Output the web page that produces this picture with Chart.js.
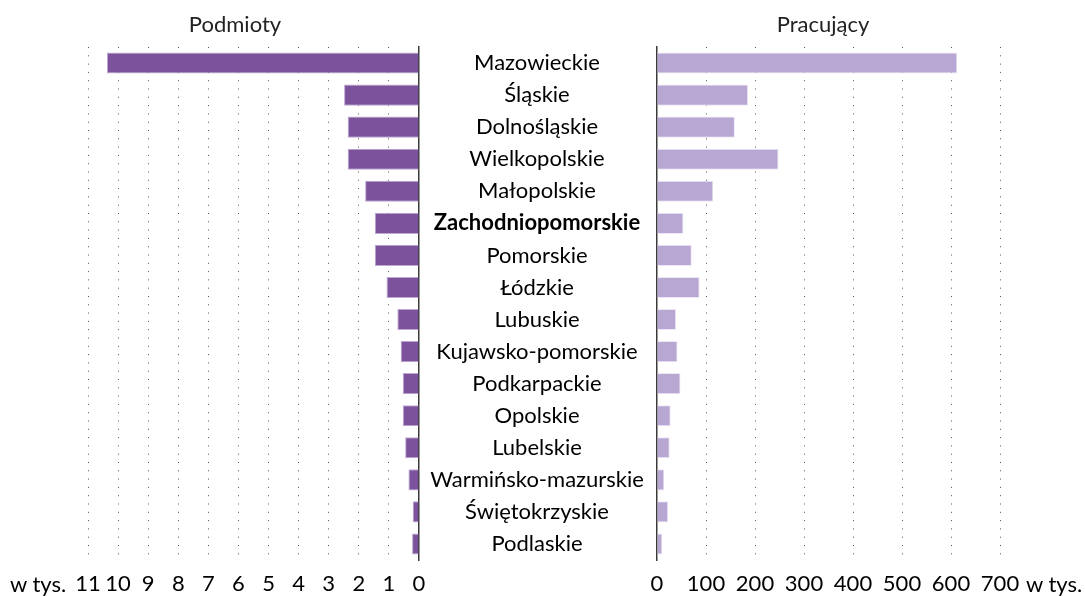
<!DOCTYPE html>
<html lang="pl">
<head>
<meta charset="utf-8">
<title>Podmioty i pracujący według województw</title>
<script src="https://cdn.jsdelivr.net/npm/chart.js@4/dist/chart.umd.min.js"></script>
<style>
    body { margin: 0; background: #fff; }
    #wrap { position: relative; width: 1085px; height: 596px; overflow: hidden; }
    canvas { position: absolute; left: 0; top: 0; }
    .txt { position: absolute; font-family: Lato, sans-serif; font-size: 22px; line-height: 26px; color: #000; white-space: nowrap; }
    .tytul { color: #222; text-align: center; width: 200px; }
</style>
</head>
<body>
<div id="wrap">
    <canvas id="wykresPodmioty" width="1085" height="596"></canvas>
    <canvas id="wykresPracujacy" width="1085" height="596"></canvas>
    <div class="txt tytul" style="left:135px; top:11px;">Podmioty</div>
    <div class="txt tytul" style="left:723px; top:11px;">Pracujący</div>
    <div class="txt" style="left:10px; top:571px;">w tys.</div>
    <div class="txt" style="left:1026px; top:571px;">w tys.</div>
</div>
<script>
// dane
const wojewodztwa = ['Mazowieckie', 'Śląskie', 'Dolnośląskie', 'Wielkopolskie', 'Małopolskie',
    'Zachodniopomorskie', 'Pomorskie', 'Łódzkie', 'Lubuskie', 'Kujawsko-pomorskie',
    'Podkarpackie', 'Opolskie', 'Lubelskie', 'Warmińsko-mazurskie', 'Świętokrzyskie', 'Podlaskie'];
const podmioty = [10.37, 2.49, 2.37, 2.37, 1.79, 1.47, 1.47, 1.08, 0.72, 0.61, 0.54, 0.54, 0.46, 0.35, 0.21, 0.23];
const pracujacy = [613, 186, 159, 248, 115, 54, 71, 87, 39, 42, 48, 28, 26, 15, 23, 11];
const wyrozniony = 'Zachodniopomorskie';

const fonte = 'Lato, sans-serif';

// siatka kropkowana - bez linii przy zerze (tam jest oś)
function osX(min, max, krok, odwrotnie) {
    return {
        reverse: odwrotnie,
        min: min,
        max: max,
        afterFit: (skala) => { skala.height = 36; },
        ticks: {
            stepSize: krok,
            autoSkip: false,
            maxRotation: 0,
            padding: 11,
            color: '#000',
            font: { family: fonte, size: 22 }
        },
        grid: {
            drawTicks: false,
            lineWidth: 1,
            color: (ctx) => ctx.tick && ctx.tick.value === 0 ? 'rgba(0,0,0,0)' : '#555'
        },
        border: { display: false, dash: [1, 7.3] }
    };
}

function osY(pozycja) {
    return {
        position: pozycja,
        ticks: { display: false },
        grid: { display: false, drawTicks: false },
        border: { display: true, color: '#3a3a3a', width: 1.5 }
    };
}

// nazwy województw rysowane pośrodku, między dwoma wykresami
const rotulosWojewodztw = {
    id: 'rotulosWojewodztw',
    afterDraw(chart) {
        const ctx = chart.ctx;
        const skala = chart.scales.y;
        const srodek = chart.chartArea.left - 120;
        ctx.save();
        ctx.fillStyle = '#000';
        ctx.textAlign = 'center';
        ctx.textBaseline = 'middle';
        for (let i = 0; i < wojewodztwa.length; i++) {
            ctx.font = (wojewodztwa[i] == wyrozniony ? 'bold ' : '') + '22px ' + fonte;
            ctx.fillText(wojewodztwa[i], srodek, skala.getPixelForValue(i));
        }
        ctx.restore();
    }
};

const wykresPodmioty = new Chart(document.getElementById('wykresPodmioty'), {
    type: 'bar',
    data: {
        labels: wojewodztwa,
        datasets: [{
            data: podmioty,
            backgroundColor: '#7B529B',
            borderColor: '#BCA8D2',
            borderWidth: 1,
            barPercentage: 0.66,
            categoryPercentage: 1
        }]
    },
    options: {
        indexAxis: 'y',
        responsive: false,
        animation: false,
        layout: { padding: { left: 88, right: 666, top: 47, bottom: 0 } },
        plugins: { legend: { display: false }, tooltip: { enabled: false } },
        scales: {
            x: osX(0, 11, 1, true),
            y: osY('right')
        }
    }
});

const wykresPracujacy = new Chart(document.getElementById('wykresPracujacy'), {
    type: 'bar',
    data: {
        labels: wojewodztwa,
        datasets: [{
            data: pracujacy,
            backgroundColor: '#B9A7D3',
            borderColor: '#EDE6F4',
            borderWidth: 1,
            barPercentage: 0.66,
            categoryPercentage: 1
        }]
    },
    options: {
        indexAxis: 'y',
        responsive: false,
        animation: false,
        layout: { padding: { left: 657, right: 85, top: 47, bottom: 0 } },
        plugins: { legend: { display: false }, tooltip: { enabled: false } },
        scales: {
            x: osX(0, 700, 100, false),
            y: osY('left')
        }
    },
    plugins: [rotulosWojewodztw]
});
</script>
</body>
</html>
